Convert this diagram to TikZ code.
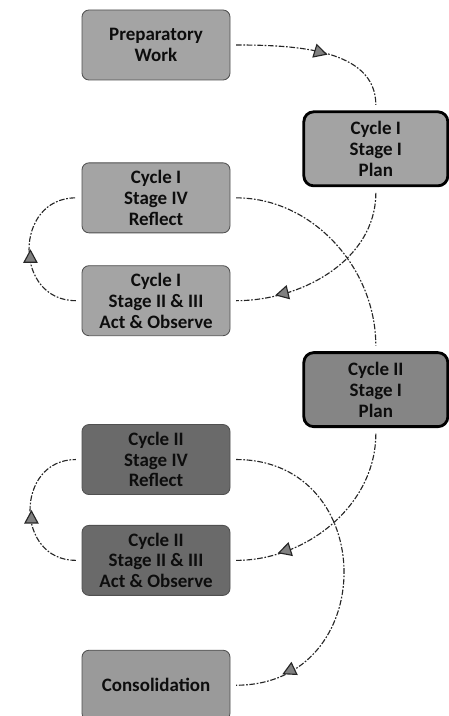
\documentclass[tikz,border=0pt]{standalone}
\usepackage{fontspec}
\setmainfont{Carlito}
\usepackage{xcolor}
\definecolor{boxgray}{HTML}{A4A4A4}
\definecolor{plangray}{HTML}{A3A3A3}
\definecolor{plangrayd}{HTML}{858585}
\definecolor{boxdark}{HTML}{6A6A6A}
\definecolor{consgray}{HTML}{9A9A9A}
\definecolor{edgegray}{HTML}{505050}
\definecolor{txtblack}{HTML}{0D0D0D}
\definecolor{linegray}{HTML}{262626}
\usetikzlibrary{arrows.meta, positioning, decorations.markings}
\tikzset{
  sbox/.style ={rectangle, rounded corners=5pt, draw=edgegray, line width=0.6pt, fill=boxgray, text=txtblack,
                align=center, minimum width=3.7cm, minimum height=1.75cm, inner sep=2pt,
                font=\fontsize{13.5}{14.8}\selectfont\bfseries},
  sboxd/.style={sbox, fill=boxdark},
  pbox/.style ={sbox, rounded corners=7pt, draw=black, line width=2pt, fill=plangray,
                minimum width=3.6cm, minimum height=1.85cm},
  carr/.style ={draw=linegray, line width=0.8pt, dash pattern=on 4pt off 1.2pt on 1.2pt off 1.2pt,
                shorten <=4pt, shorten >=4pt},
  tmark/.style={postaction={decorate}, decoration={markings, mark=at position #1 with
                {\arrow{Triangle[length=3.4mm, width=3.6mm, fill=gray, color=black!85]}}}},
}
\begin{document}
\begin{tikzpicture}
  \useasboundingbox[fill=white] (0,0) rectangle (11.2,-17.9);
  \node[sbox] (prep) at (3.9,-1.125) {Preparatory\\Work};
  \node[pbox, below right=0.75cm and 1.8cm of prep] (plan1) {Cycle I\\Stage I\\Plan};
  \node[sbox, below=2.05cm of prep] (ref1) {Cycle I\\Stage IV\\Reflect};
  \node[sbox, below=0.8cm of ref1] (act1) {Cycle I\\Stage II \& III\\Act \& Observe};
  \node[pbox, fill=plangrayd, below=4.1cm of plan1] (plan2) {Cycle II\\Stage I\\Plan};
  \node[sboxd, below=2.2cm of act1] (ref2) {Cycle II\\Stage IV\\Reflect};
  \node[sboxd, below=0.75cm of ref2] (act2) {Cycle II\\Stage II \& III\\Act \& Observe};
  \node[sbox, fill=consgray, below=1.35cm of act2] (cons) {Consolidation};
  % cycle I
  \draw[carr, tmark=0.55] (prep.east) to[out=0, in=90] (plan1.north);
  \draw[carr, tmark=0.78] (plan1.south) to[out=-90, in=0] (act1.east);
  \draw[carr, tmark=0.5] (act1.west) to[out=180, in=180, looseness=1.7] (ref1.west);
  \draw[carr] (ref1.east) to[out=0, in=90] (plan2.north);
  % cycle II
  \draw[carr, tmark=0.78] (plan2.south) to[out=-90, in=0] (act2.east);
  \draw[carr, tmark=0.5] (act2.west) to[out=180, in=180, looseness=1.7] (ref2.west);
  \draw[carr, tmark=0.85] (ref2.east) to[out=0, in=0, looseness=1.7] (cons.east);
\end{tikzpicture}
\end{document}
